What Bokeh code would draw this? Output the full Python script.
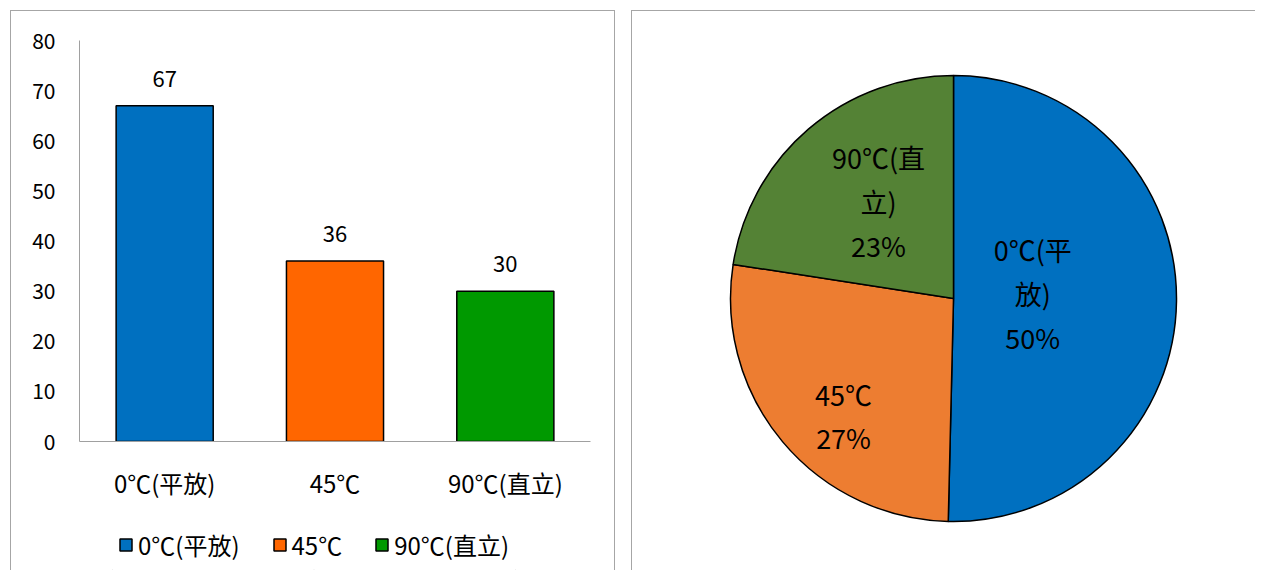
import numpy as np
from bokeh.plotting import figure
from bokeh.models import (ColumnDataSource, FactorRange, FixedTicker, LabelSet,
                          Legend, LegendItem, Range1d)
from bokeh.layouts import row, column
from bokeh.embed import file_html
from bokeh.resources import INLINE
from bokeh.core.properties import value

# ---------------- data ----------------
categories = ["0℃(平放)", "45℃", "90℃(直立)"]
counts = [67, 36, 30]
bar_colors = ["#0070C0", "#FF6600", "#009900"]
pie_colors = ["#0070C0", "#ED7D31", "#548235"]
pie_names = ["0℃(平\n放)", "45℃", "90℃(直\n立)"]
y_ticks = [0, 10, 20, 30, 40, 50, 60, 70, 80]

FONT = "Noto Sans CJK SC"
BORDER = "#A6A6A6"

# ---------------- bar chart ----------------
src = ColumnDataSource(dict(cat=categories, val=counts, color=bar_colors,
                            lab=[str(v) for v in counts]))

p1 = figure(x_range=FactorRange(*categories), y_range=Range1d(0, 80),
            width=605, height=500, output_backend="svg", toolbar_location=None,
            min_border_left=68, min_border_right=26, min_border_top=29,
            min_border_bottom=70, outline_line_color=None,
            background_fill_color="white", border_fill_color="white")
p1.styles = {"border-left": f"1px solid {BORDER}", "border-top": f"1px solid {BORDER}",
             "border-right": f"1px solid {BORDER}"}
p1.margin = (10, 0, 0, 10)
p1.frame_align = False

r = p1.vbar(x="cat", top="val", width=0.57, source=src, fill_color="color",
            line_color="black", line_width=1.5)

p1.add_layout(LabelSet(x="cat", y="val", text="lab", source=src, text_align="center",
                       text_baseline="bottom", y_offset=19, text_font=value(FONT),
                       text_font_size="22px", text_color="black"))

p1.xgrid.visible = False
p1.ygrid.visible = False
p1.yaxis.ticker = FixedTicker(ticks=y_ticks)
for ax in (p1.xaxis, p1.yaxis):
    ax.axis_line_color = "#A0A0A0"
    ax.axis_line_width = 1
    ax.major_tick_line_color = None
    ax.minor_tick_line_color = None
    ax.major_tick_out = 0
    ax.major_tick_in = 0
    ax.major_label_text_font = FONT
    ax.major_label_text_color = "black"
p1.yaxis.major_label_text_font_size = "21px"
p1.yaxis.major_label_standoff = 24
p1.xaxis.major_label_text_font_size = "24px"
p1.xaxis.major_label_standoff = 23

# ---------------- legend strip under the bar chart ----------------
pleg = figure(x_range=FactorRange(*categories), y_range=Range1d(100, 101),
              width=605, height=60, output_backend="svg", toolbar_location=None,
              x_axis_location=None, y_axis_location=None, min_border=0,
              outline_line_color=None, background_fill_color="white",
              border_fill_color="white")
pleg.styles = {"border-left": f"1px solid {BORDER}", "border-right": f"1px solid {BORDER}"}
pleg.margin = (0, 0, 0, 10)
pleg.frame_align = False
pleg.xgrid.visible = False
pleg.ygrid.visible = False
# legend-key renderer: same data, kept outside the strip's visible range
rl = pleg.vbar(x="cat", top="val", width=1e-4, source=src, fill_color="color",
               line_color="black", line_width=1.5)

items = [LegendItem(label=c, renderers=[rl], index=i) for i, c in enumerate(categories)]
legend = Legend(items=items, orientation="horizontal", location=(107, 8),
                label_text_font=FONT, label_text_font_size="24px",
                label_text_color="black",
                glyph_width=15, glyph_height=15, label_standoff=5, spacing=32,
                padding=0, margin=0, border_line_color=None,
                background_fill_alpha=0)
pleg.add_layout(legend, "center")

# ---------------- pie chart ----------------
vals = np.array(counts, dtype=float)
frac = vals / vals.sum()
cum = np.concatenate([[0.0], np.cumsum(frac)])
start = np.pi / 2 - 2 * np.pi * cum[:-1]
end = np.pi / 2 - 2 * np.pi * cum[1:]
mid = (start + end) / 2
label_r = np.array([0.356, 0.722, 0.55])          # radial placement of labels
label_turn = np.radians([4.3, 7.0, -2.9])          # angular nudge of labels
lx = label_r * np.cos(mid + label_turn)
ly = label_r * np.sin(mid + label_turn)
texts = [f"{n}\n{round(f * 100)}%" for n, f in zip(pie_names, frac)]

psrc = ColumnDataSource(dict(start=start, end=end, color=pie_colors, lx=lx, ly=ly, t=texts))

p2 = figure(width=624, height=560, output_backend="svg", toolbar_location=None,
            x_range=Range1d(-1.4395, 1.3587), y_range=Range1d(-1.2242, 1.287),
            x_axis_location=None, y_axis_location=None, min_border=0,
            outline_line_color=None, background_fill_color="white",
            border_fill_color="white")
p2.styles = {"border-left": f"1px solid {BORDER}", "border-top": f"1px solid {BORDER}"}
p2.margin = (10, 0, 0, 16)
p2.frame_align = False
p2.xgrid.visible = False
p2.ygrid.visible = False

p2.wedge(x=0, y=0, radius=1, start_angle="start", end_angle="end", direction="clock",
         fill_color="color", line_color="black", line_width=1.5, source=psrc)
p2.text(x="lx", y="ly", text="t", source=psrc, text_align="center",
        text_baseline="middle", text_font=value(FONT), text_font_size="27px",
        text_line_height=1.12, text_color="black")

layout = row(column(p1, pleg, spacing=0), p2, spacing=0)
open("out.html", "w").write(file_html(layout, INLINE))
